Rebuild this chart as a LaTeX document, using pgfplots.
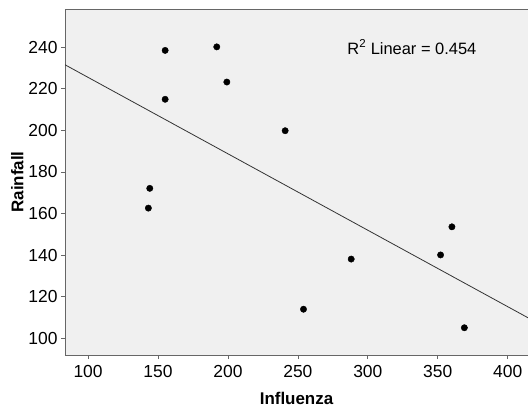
\documentclass[border=0pt]{standalone}
\usepackage{pgfplots}
\pgfplotsset{compat=1.18}
\usepackage{fontspec}
\setmainfont{Liberation Sans}
\definecolor{plotbg}{HTML}{F0F0F0}
\definecolor{frame}{HTML}{666666}
\begin{document}
\begin{tikzpicture}
\begin{axis}[
    scale only axis,
    width=463bp, height=346bp,
    xmin=83.5, xmax=414.5,
    ymin=92, ymax=258.3,
    axis x line*=box,
    axis y line*=left,
    axis line style={frame, line width=1pt, -},
    axis background/.style={fill=plotbg},
    xtick={100,150,...,400},
    ytick={100,120,...,240},
    xtick pos=bottom, ytick pos=left,
    tick align=outside,
    major tick length=4bp,
    tick style={frame, line width=0.8pt},
    /pgf/number format/assume math mode=true,
    ticklabel style={font=\fontsize{17.5}{19}\selectfont},
    xticklabel style={yshift=-3bp},
    xlabel={Influenza},
    ylabel={Rainfall},
    label style={font=\fontsize{17}{19}\selectfont\bfseries},
    xlabel style={yshift=-8bp},
    ylabel style={yshift=-2bp},
    clip=false,
]
\addplot[only marks, mark=*, mark size=3.2pt, black] coordinates {
    (155.1,238.4) (192.0,240.1) (199.2,223.2) (155.1,214.9)
    (144.1,172.1) (143.1,162.6) (240.9,199.8) (254.0,114.0)
    (288.1,138.1) (352.0,140.1) (360.1,153.6) (369.0,105.1)
};
\addplot[black!80, line width=0.8pt] coordinates {(83.5,231.5) (414.5,109.9)};
\node[font=\fontsize{16.5}{18}\selectfont] at (axis cs:331.5,240) {R\textsuperscript{2} Linear = 0.454};
\coordinate (bl) at (rel axis cs:0,0);
\coordinate (tr) at (rel axis cs:1,1);
\end{axis}
\pgfresetboundingbox
\path[use as bounding box] ([shift={(-65bp,-55bp)}]bl) rectangle ([shift={(0bp,9bp)}]tr);
\end{tikzpicture}
\end{document}
